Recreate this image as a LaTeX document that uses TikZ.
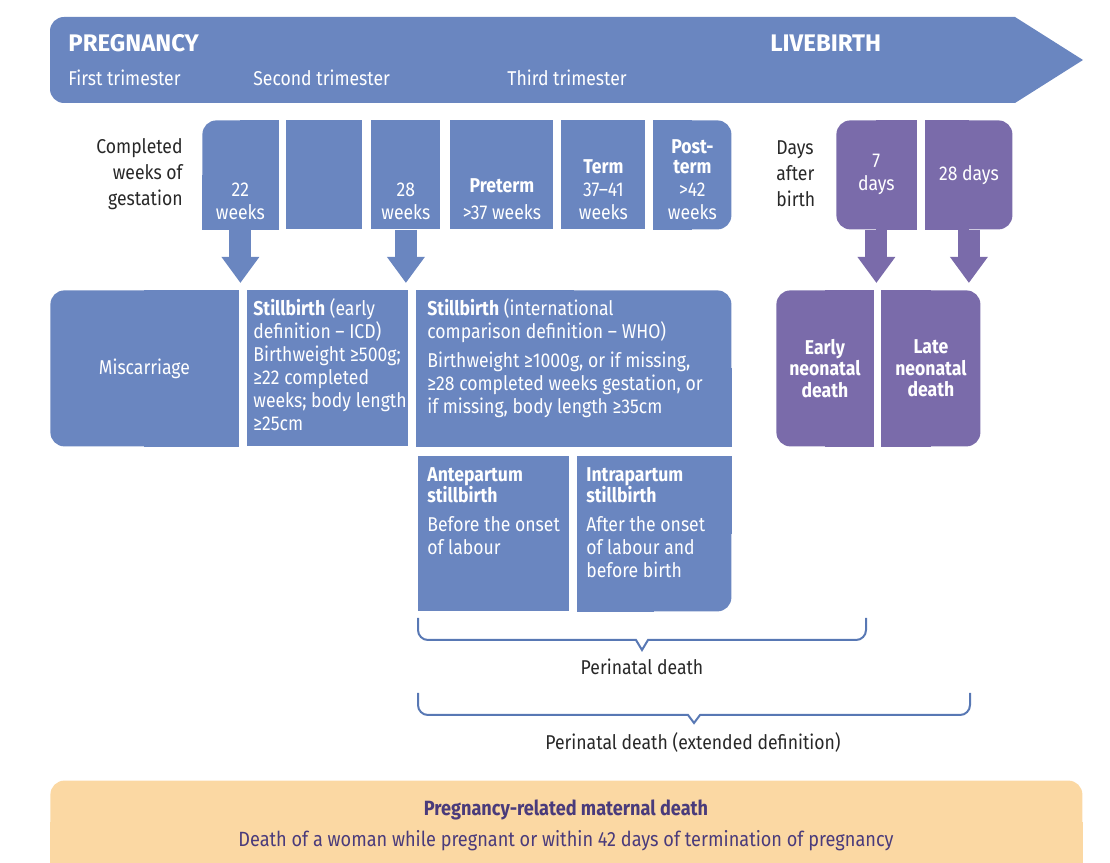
\documentclass[tikz,border=0pt]{standalone}
\usepackage{fontspec}
\setmainfont[FakeStretch=0.88]{Fira Sans}
\newfontfamily\headfont{Fira Sans}
\usetikzlibrary{arrows.meta}

\definecolor{pblue}{HTML}{6A86C0}
\definecolor{ppurple}{HTML}{7A6BAA}
\definecolor{bracecol}{HTML}{5878B4}
\definecolor{porange}{HTML}{FBD8A3}
\definecolor{ptext}{HTML}{4A3B7B}
\definecolor{dtext}{HTML}{282828}

\tikzset{
  head/.style={text=white, inner sep=0, font=\headfont\fontsize{12}{13}\selectfont\bfseries},
  tri/.style={text=white, inner sep=0, font=\fontsize{10}{12}\selectfont},
  txt/.style={text=white, inner sep=0, font=\fontsize{10}{11.5}\selectfont},
  btxt/.style={txt, font=\fontsize{10}{10.8}\selectfont\bfseries},
  lbl/.style={text=dtext, inner sep=0, font=\fontsize{10}{13}\selectfont},
  mtxt/.style={text=ptext, inner sep=0, font=\fontsize{10.3}{12}\selectfont},
  wbox/.style={fill=pblue, inner sep=0, anchor=north west, minimum height=54.5pt},
  dbox/.style={wbox, fill=ppurple},
  rbox/.style={fill=pblue, inner sep=0, anchor=north west, minimum height=78pt},
  sbox/.style={fill=pblue, inner sep=0, anchor=north west, minimum height=77.5pt},
  fatb/.style={draw=pblue, line width=11pt, -{Triangle[width=18pt,length=13pt]}, shorten >=3.5pt},
  fatp/.style={fatb, draw=ppurple},
  brace/.style={draw=bracecol, line width=1pt}
}

\begin{document}
\begin{tikzpicture}[x=0.5pt,y=0.5pt]
\useasboundingbox (0,0) rectangle (1110,863);

% timeline
\fill[pblue] (64,846) -- (1015,846) -- (1083,803) -- (1015,760) -- (64,760)
  arc[start angle=270,end angle=180,radius=7pt] -- (50,832)
  arc[start angle=180,end angle=90,radius=7pt] -- cycle;
\node[head, anchor=west] (preg) at (68,820) {PREGNANCY};
\node[head, anchor=west] (live) at (770,820) {LIVEBIRTH};
\node[tri, anchor=west] (tri1) at (68,785) {First trimester};
\node[tri, anchor=west] (tri2) at (253,785) {Second trimester};
\node[tri, anchor=west] (tri3) at (507,785) {Third trimester};

% weeks of gestation
\node[lbl, align=right, anchor=east] (gest) at (183,689) {Completed\\weeks of\\gestation};
\node[wbox, rounded corners=7pt, minimum width=38pt] (w22) at (202,743) {};
\node[wbox, minimum width=38pt] (wmid) at (286,743) {};
\node[wbox, minimum width=34.5pt] (w28) at (371,743) {};
\node[wbox, minimum width=51.5pt] (pre) at (450,743) {};
\node[wbox, minimum width=42pt] (term) at (561,743) {};
\node[wbox, rounded corners=7pt, minimum width=39pt] (post) at (653,743) {};
\fill[pblue] (w22.west) rectangle (w22.south east);
\fill[pblue] (w22.north) rectangle (w22.east);
\fill[pblue] (post.north west) rectangle (post.south);

\node[txt, align=center, anchor=south] (t22) at ([yshift=5pt]w22.south) {22\\weeks};
\node[txt, align=center, anchor=south] (t28) at ([yshift=5pt]w28.south) {28\\weeks};
\node[txt, align=center, anchor=south] (tpre) at ([yshift=5pt]pre.south) {\textbf{Preterm}\\[2pt]>37 weeks};
\node[txt, align=center, anchor=south] (tterm) at ([yshift=5pt]term.south) {\textbf{Term}\\37–41\\weeks};
\node[txt, align=center, anchor=south] (tpost) at ([yshift=5pt]post.south) {\textbf{Post-}\\[-1.5pt]\textbf{term}\\>42\\weeks};

% days after birth
\node[lbl, align=left, anchor=west] (days) at (776,689) {Days\\after\\birth};
\node[dbox, rounded corners=7pt, minimum width=40pt] (d7) at (836,743) {};
\node[dbox, rounded corners=7pt, minimum width=43.5pt] (d28) at (925,743) {};
\fill[ppurple] (d7.north) rectangle (d7.south east);
\fill[ppurple] (d28.north west) rectangle (d28.south);
\node[txt, align=center] (t7) at (d7) {7\\days};
\node[txt] (td28) at (d28) {28 days};

% outcomes
\node[rbox, rounded corners=7pt, minimum width=94pt] (misc) at (50,573) {};
\node[rbox, minimum width=80.5pt] (sbe) at (247,573) {};
\node[rbox, rounded corners=7pt, minimum width=157.5pt] (who) at (416,573) {};
\node[rbox, fill=ppurple, rounded corners=7pt, minimum width=48.5pt] (early) at (776,573) {};
\node[rbox, fill=ppurple, rounded corners=7pt, minimum width=49.5pt] (late) at (881,573) {};
\fill[pblue] (misc.north) rectangle (misc.south east);
\fill[pblue] (who.north west) rectangle (who.south);
\fill[pblue] (who.south) rectangle (who.east);
\fill[ppurple] (early.north) rectangle (early.south east);
\fill[ppurple] (late.north west) rectangle (late.south);

\node[txt] (tmisc) at (misc) {Miscarriage};
\node[txt, align=left, anchor=north west] (tsbe) at ([xshift=3pt,yshift=-4pt]sbe.north west)
  {\textbf{Stillbirth} (early\\definition – ICD)\\Birthweight ≥500g;\\≥22 completed\\weeks; body length\\≥25cm};
\node[txt, align=left, anchor=north west] (twho) at ([xshift=5.5pt,yshift=-4pt]who.north west)
  {\textbf{Stillbirth} (international\\comparison definition – WHO)\\[3pt]Birthweight ≥1000g, or if missing,\\≥28 completed weeks gestation, or\\if missing, body length ≥35cm};
\node[btxt, align=center] (tearly) at (early) {Early\\neonatal\\death};
\node[btxt, align=center] (tlate) at (late) {Late\\neonatal\\death};

\node[sbox, minimum width=75.5pt] (ante) at (418,407) {};
\node[sbox, rounded corners=7pt, minimum width=77pt] (intra) at (577,407) {};
\fill[pblue] (intra.north west) rectangle (intra.south);
\fill[pblue] (intra.north) rectangle (intra.east);
\node[txt, align=left, anchor=north west] (tante) at ([xshift=4.5pt,yshift=-5.5pt]ante.north west)
  {\textbf{Antepartum}\\[-0.7pt]\textbf{stillbirth}\\[3pt]Before the onset\\of labour};
\node[txt, align=left, anchor=north west] (tintra) at ([xshift=4.5pt,yshift=-5.5pt]intra.north west)
  {\textbf{Intrapartum}\\[-0.7pt]\textbf{stillbirth}\\[3pt]After the onset\\of labour and\\before birth};

% arrows
\draw[fatb] (w22.south) -- (w22.south |- misc.north);
\draw[fatb] (w28.south) -- (w28.south |- who.north);
\draw[fatp] (d7.south) -- (d7.south |- early.north);
\draw[fatp] (d28.south) -- (d28.south |- late.north);

% braces
\draw[brace] (418,245) -- (418,233) arc[start angle=180,end angle=270,radius=5pt]
  -- (636,223) -- (642,213) -- (648,223) -- (856,223)
  arc[start angle=270,end angle=360,radius=5pt] -- (866,245);
\node[lbl] (peri) at (642,196) {Perinatal death};
\draw[brace] (418,170) -- (418,158) arc[start angle=180,end angle=270,radius=5pt]
  -- (688,148) -- (694,140) -- (700,148) -- (960,148)
  arc[start angle=270,end angle=360,radius=5pt] -- (970,170);
\node[lbl] (perix) at (693,120) {Perinatal death (extended definition)};

% maternal death
\node[fill=porange, rounded corners=7pt, inner sep=0, minimum width=516pt, minimum height=41pt, anchor=south west] (mat) at (50,0) {};
\fill[porange] (mat.west) rectangle (mat.south east);
\node[mtxt, font=\fontsize{10.3}{12}\selectfont\bfseries] (matttl) at (566,53) {Pregnancy-related maternal death};
\node[mtxt] (matdef) at (566,22) {Death of a woman while pregnant or within 42 days of termination of pregnancy};

\end{tikzpicture}
\end{document}
